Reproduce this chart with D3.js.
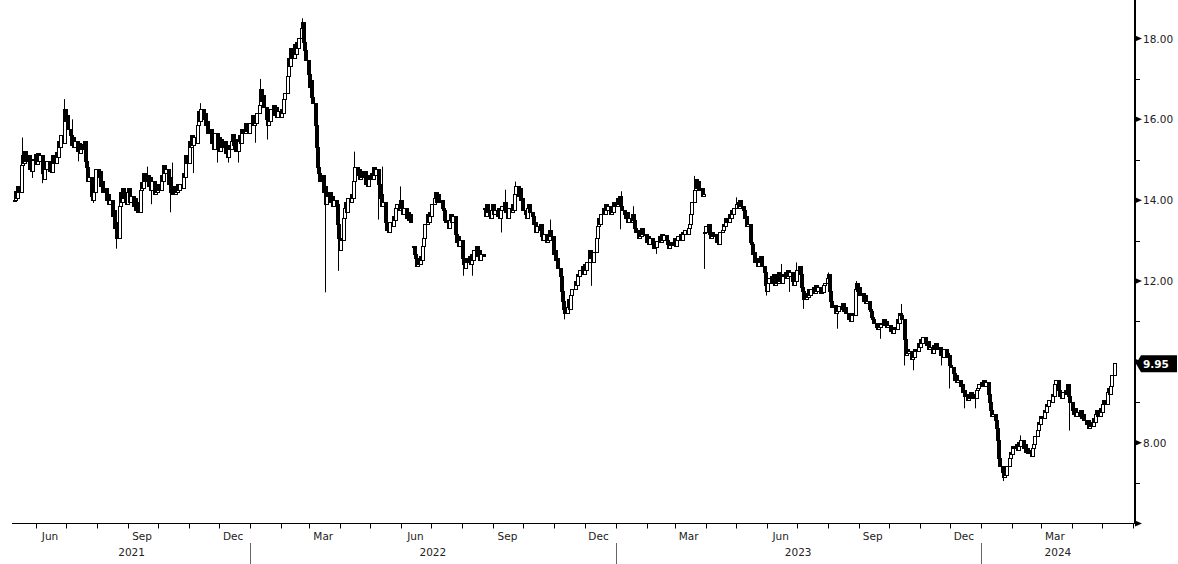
<!DOCTYPE html>
<html><head><meta charset="utf-8">
<script src="https://cdn.jsdelivr.net/npm/d3@7"></script>
<style>
body{margin:0;background:#fff;}
svg{display:block;}
text{font-family:"DejaVu Sans",Verdana,sans-serif;}
</style>
</head><body>
<svg id="chart" width="1178" height="564"></svg>
<script>
// ---------------- DATA ----------------
// daily closes, consecutive weekdays from each segment start
const seg1Start = "2021-05-10";
const seg1Closes = [
14.00,14.22,14.05,14.35,14.20, 14.85,15.10,14.90,15.20,14.95, 15.10,14.75,15.00,14.72,14.98,
15.12,14.88,15.15,14.95,15.10, 14.65,14.50,14.90,14.75,14.95, 14.70,14.95,14.68,15.10,14.90,
15.18,15.05,15.45,15.30,15.60, 15.40,16.25,15.95,16.10,15.75, 15.60,15.35,15.55,15.30,15.45,
15.20,15.40,15.15,15.38,15.25, 15.45,14.95,14.80,14.45,14.55, 14.10,14.00,14.35,14.20,14.75,
14.55,14.70,14.35,14.45,14.20, 14.30,14.00,14.15,13.90,14.00, 13.60,13.75,13.30,13.45,13.05,
13.85,14.20,13.95,14.30,14.05, 13.90,14.20,14.30,13.95,14.10, 13.85,14.05,13.75,13.95,13.70,
14.25,14.43,14.30,14.65,14.45, 14.60,14.35,14.55,14.25,14.45, 14.15,14.35,14.20,14.40,14.25,
14.60,14.45,14.85,14.65,14.75, 14.40,14.55,14.20,14.35,14.15, 14.35,14.20,14.40,14.25,14.38,
14.30,14.65,14.55,15.10,14.90, 15.45,15.30,15.60,15.35,15.55, 15.40,15.85,16.20,15.95,16.25,
16.00,16.15,15.85,15.95,15.65, 15.75,15.40,15.60,15.25,15.65, 15.35,15.55,15.20,15.50,15.30,
15.45,15.15,15.35,15.05,15.25, 15.45,15.62,15.35,15.50,15.20, 15.45,15.60,15.40,15.75,15.65,
15.90,15.70,15.85,15.65,15.90, 16.10,15.85,16.05,15.90,16.15, 16.35,16.75,16.45,16.60,16.30,
16.00,15.85,16.10,15.95,16.25, 16.35,16.10,16.30,16.05,16.20, 16.05,16.25,16.15,16.50,16.65,
17.05,17.50,17.30,17.75,17.50, 17.85,17.60,17.90,17.75,18.00, 18.25,18.40,17.90,17.70,17.45,
17.10,16.80,16.95,16.55,16.40, 15.85,15.30,14.80,14.65,14.45, 14.60,14.20,14.35,13.90,14.10,
14.20,13.95,14.10,13.85,14.00, 13.90,13.40,13.05,12.75,13.00, 13.55,13.80,13.95,13.70,14.05,
13.95,14.15,14.05,14.45,14.80, 14.60,14.75,14.50,14.70,14.55, 14.70,14.40,14.60,14.35,14.50,
14.65,14.50,14.80,14.60,14.75, 14.40,14.05,14.15,13.85,13.95, 13.45,13.25,13.40,13.20,13.45,
13.35,13.60,13.50,13.80,13.90, 13.75,14.00,13.80,13.65,13.80, 13.55,13.70,13.50,13.65,13.45
];
const seg2Start = "2022-06-13";
const seg2Closes = [
12.86,12.65,12.55,12.35,12.42, 12.60,12.50,12.85,13.05,13.40, 13.65,13.45,13.70,13.60,13.90,
14.05,14.20,13.95,14.15,13.95, 14.00,13.80,13.75,13.50,13.45, 13.30,13.50,13.65,13.45,13.60,
13.15,12.95,13.10,12.85,13.00, 12.55,12.40,12.30,12.55,12.45, 12.60,12.40,12.65,12.50,12.75,
12.85,12.60,12.75,12.50,12.65, 12.60
];
const seg3Start = "2022-08-23";
const seg3Closes = [
13.80,13.60,13.90,13.70,
13.55,13.75,13.90,13.65,13.75, 13.60,13.80,13.55,13.75,13.85, 13.95,13.70,13.80,13.55,13.80,
13.70,13.90,13.75,14.15,14.35, 14.10,14.30,14.00,14.05,13.75, 13.65,13.55,13.80,13.90,13.70,
13.60,13.40,13.45,13.20,13.35, 13.25,13.40,13.10,13.00,13.15, 12.95,13.15,13.00,13.25,13.10,
12.65,12.75,12.50,12.55,12.30, 12.10,11.75,11.50,11.30,11.20, 11.35,11.55,11.30,11.65,11.80,
12.00,11.90,12.15,12.10,12.25, 12.35,12.15,12.40,12.25,12.45, 12.75,12.55,12.65,12.45,12.70,
13.05,13.35,13.55,13.40,13.65, 13.80,13.65,13.90,13.75,13.85, 13.65,13.80,13.70,13.95,13.85,
14.05,13.90,14.10,13.85,13.75, 13.65,13.55,13.70,13.45,13.55, 13.45,13.65,13.50,13.30,13.20,
13.05,13.25,13.10,13.30,13.15, 13.15,12.95,13.10,12.90,13.05, 12.90,12.80,12.95,12.82,12.98,
13.10,12.95,13.15,13.00,13.12, 13.00,12.90,12.80,12.95,12.88, 12.90,13.05,12.85,13.00,13.10,
13.15,13.00,13.20,13.15,13.25, 13.15,13.30,13.40,13.65,13.95, 14.25,14.50,14.30,14.45,14.25,
14.30,14.10,14.15
];
const seg4Start = "2023-03-30";
const seg4Closes = [
13.20,13.35,
13.40,13.15,13.05,13.20,13.10, 13.15,12.95,13.00,12.90,13.20, 13.25,13.40,13.35,13.55,13.45,
13.65,13.55,13.75,13.65,13.80, 13.90,13.95,13.80,14.00,13.85, 13.75,13.55,13.60,13.35,13.40,
12.95,12.90,12.65,12.70,12.45, 12.35,12.55,12.45,12.60,12.35, 12.20,11.90,11.75,11.95,12.05,
12.10,11.95,12.15,11.90,11.95, 12.20,12.00,12.15,11.95,12.10, 12.20,12.05,12.25,12.10,12.20,
12.00,11.90,12.10,12.00,12.25, 12.35,12.15,11.85,11.75,11.55, 11.70,11.60,11.80,11.65,11.78,
11.85,11.70,11.90,11.75,11.85, 11.70,11.85,11.72,11.90,11.95, 12.05,12.15,11.75,11.50,11.35,
11.40,11.20,11.35,11.25,11.38, 11.30,11.45,11.25,11.35,11.20, 11.05,11.15,11.00,11.20,11.15,
11.80,11.95,11.75,11.85,11.65, 11.70,11.50,11.65,11.45,11.50, 11.30,11.25,11.10,11.05,10.95,
10.85,10.80,10.95,10.85,10.92, 11.05,10.90,11.00,10.85,10.90, 10.75,10.85,10.70,10.85,10.80,
11.05,10.95,11.20,11.15,11.05, 10.55,10.15,10.30,10.20,10.25, 10.05,10.20,10.10,10.30,10.25,
10.45,10.35,10.55,10.45,10.60, 10.50,10.40,10.50,10.30,10.35, 10.20,10.40,10.30,10.45,10.30,
10.35,10.15,10.25,10.10,10.30, 10.20,10.10,10.15,9.90,9.85, 9.70,9.55,9.65,9.50,9.55,
9.40,9.45,9.25,9.30,9.15, 9.05,9.20,9.10,9.25,9.10, 9.20,9.10,9.30,9.35,9.45,
9.50,9.40,9.55,9.40,9.50, 9.20,9.00,8.80,8.65,8.70, 8.55,8.35,8.05,7.60,7.40,
7.25,7.15,7.30,7.20,7.40, 7.60,7.75,7.70,7.90,7.85, 7.95,7.80,8.00,7.90,8.05,
7.85,7.95,7.75,7.85,7.72, 7.80,7.65,7.85,7.95,8.15, 8.30,8.50,8.45,8.65,8.60,
8.80,8.75,8.95,8.90,9.05, 9.00,9.20,9.15,9.45,9.55, 9.30,9.15,9.25,9.10,9.25,
9.30,9.20,9.45,9.15,9.00, 8.80,8.70,8.85,8.65,8.75, 8.65,8.80,8.60,8.70,8.55,
8.45,8.55,8.35,8.50,8.40, 8.60,8.50,8.70,8.80,8.65, 8.85,8.75,8.95,9.05,8.95,
9.25,9.35,9.20,9.40,9.65, 9.95
];
// notable intraday extremes (wicks)
const wickDates = [
"2021-05-18","2021-05-28","2021-06-07","2021-06-29","2021-07-07","2021-07-13","2021-07-28","2021-08-20",
"2021-09-20","2021-09-24","2021-10-13","2021-10-15","2021-11-05","2021-11-12","2021-11-29","2021-12-10","2021-12-20",
"2022-01-06","2022-01-11","2022-01-18","2022-02-22","2022-03-17","2022-03-30","2022-04-15","2022-05-09","2022-05-13",
"2022-05-31","2022-08-02","2022-08-11","2022-09-09","2022-09-13","2022-09-23","2022-10-28","2022-11-11","2022-12-07",
"2023-01-05","2023-01-06","2023-01-18","2023-02-10","2023-03-20","2023-03-30","2023-05-01","2023-05-31","2023-06-15",
"2023-06-23","2023-06-30","2023-07-07","2023-08-01","2023-08-10","2023-08-29","2023-09-22","2023-10-13","2023-10-16",
"2023-10-25","2023-11-22","2023-11-30","2023-12-15","2023-12-26","2024-01-23","2024-02-09","2024-03-29"
];
const wickValues = [
15.55,14.55,14.42,16.50,16.00,14.96,13.93,12.80,
14.83,13.90,13.70,14.93,14.67,16.40,14.93,14.93,14.93,
15.42,17.00,15.50,18.50,11.72,12.25,15.20,13.52,14.83,
14.34,12.13,12.13,13.20,14.26,14.46,13.52,11.05,11.88,
13.28,14.22,13.85,12.67,14.60,12.30,14.07,11.64,12.42,
11.73,12.46,11.31,12.21,10.82,12.00,10.57,11.43,9.91,
9.79,9.91,9.34,8.85,8.85,7.05,8.18,8.30
];

const yMajorTicks = [6, 8, 10, 12, 14, 16, 18];
const yMinorTicks = [7, 9, 11, 13, 15, 17];
const quarterMonthNames = ["Mar", "Jun", "Sep", "Dec"];
const lastPrice = 9.95;
const xDomain = ["2021-05-09", "2024-06-03"];

// ---------------- CHART ----------------
const parse = d3.utcParse("%Y-%m-%d");
const svg = d3.select("#chart");

const x = d3.scaleUtc().domain(xDomain.map(parse)).range([13, 1135]);
const y = d3.scaleLinear().domain([6, 18]).range([523.5, 38.5]);

function tradingDays(startStr, n) {
  const out = [];
  let d = parse(startStr);
  while (out.length < n) {
    const wd = d.getUTCDay();
    if (wd !== 0 && wd !== 6) out.push(new Date(d));
    d = d3.utcDay.offset(d, 1);
  }
  return out;
}

const segments = [[seg1Start, seg1Closes], [seg2Start, seg2Closes], [seg3Start, seg3Closes], [seg4Start, seg4Closes]];
const bars = [];
segments.forEach(([start, closes]) => {
  const dates = tradingDays(start, closes.length);
  closes.forEach((c, i) => {
    bars.push({ date: dates[i], open: i === 0 ? c : closes[i - 1], close: c });
  });
});

const g = svg.append("g");
// wicks
wickDates.forEach((ds, i) => {
  const d = parse(ds);
  const bar = bars.reduce((a, b) => Math.abs(b.date - d) < Math.abs(a.date - d) ? b : a);
  const v = wickValues[i];
  const edge = v > bar.close ? Math.max(bar.open, bar.close) : Math.min(bar.open, bar.close);
  const cx = Math.round(x(bar.date)) + 0.5;
  g.append("line")
    .attr("x1", cx).attr("x2", cx)
    .attr("y1", y(edge)).attr("y2", y(v))
    .attr("stroke", "#000").attr("stroke-width", 1);
});

// candles
g.selectAll("rect.c").data(bars).join("rect")
  .attr("class", "c")
  .attr("x", d => Math.round(x(d.date)) - 1)
  .attr("width", 3)
  .attr("y", d => y(Math.max(d.open, d.close)))
  .attr("height", d => Math.max(1, Math.abs(y(d.open) - y(d.close))))
  .attr("fill", d => d.close >= d.open ? "#fff" : "#000")
  .attr("stroke", "#000").attr("stroke-width", 1)
  .attr("shape-rendering", "crispEdges");

// bottom axis
const axisY = y(6);
svg.append("line").attr("x1", 12).attr("x2", 1135).attr("y1", axisY).attr("y2", axisY)
  .attr("stroke", "#000").attr("stroke-width", 1).attr("shape-rendering", "crispEdges");
const [d0, d1] = x.domain();
d3.utcMonth.range(d3.utcMonth.ceil(d0), d1).forEach(m => {
  const mx = Math.round(x(m)) + 0.5;
  svg.append("line").attr("x1", mx).attr("x2", mx)
    .attr("y1", axisY).attr("y2", axisY + 5).attr("stroke", "#000").attr("stroke-width", 1);
});
d3.utcMonth.range(d3.utcMonth.floor(d0), d1).forEach(m => {
  const name = d3.utcFormat("%b")(m);
  const mid = d3.utcDay.offset(m, 14);
  if (quarterMonthNames.includes(name) && mid >= d0 && mid <= d1) {
    svg.append("text").attr("x", x(mid)).attr("y", 540).attr("text-anchor", "middle")
      .attr("font-size", 10.5).attr("fill", "#222").text(name);
  }
});
d3.utcYear.range(d3.utcYear.floor(d0), d1).forEach(yr => {
  const a = yr < d0 ? d0 : yr;
  const nextYr = d3.utcYear.offset(yr, 1);
  const b = nextYr > d1 ? d1 : nextYr;
  svg.append("text").attr("x", (x(a) + x(b)) / 2).attr("y", 556).attr("text-anchor", "middle")
    .attr("font-size", 10.5).attr("fill", "#222").text(d3.utcFormat("%Y")(yr));
  if (yr > d0) {
    const sx = Math.round(x(yr)) + 0.5;
    svg.append("line").attr("x1", sx).attr("x2", sx)
      .attr("y1", 543).attr("y2", 564).attr("stroke", "#666").attr("stroke-width", 1);
  }
});

// right axis
svg.append("line").attr("x1", 1135).attr("x2", 1135).attr("y1", 0).attr("y2", axisY + 0.5)
  .attr("stroke", "#000").attr("stroke-width", 2);
yMinorTicks.forEach(v => {
  const yy = Math.round(y(v)) + 0.5;
  svg.append("line").attr("x1", 1135).attr("x2", 1140).attr("y1", yy).attr("y2", yy)
    .attr("stroke", "#000").attr("stroke-width", 1);
});
const yl = y(lastPrice);
yMajorTicks.forEach(v => {
  const yy = y(v);
  svg.append("path").attr("d", `M1135,${yy - 3}L1142,${yy}L1135,${yy + 3}Z`).attr("fill", "#000");
  // the bottom tick carries no label; labels hidden behind the last-price tag are skipped
  if (v > 6 && Math.abs(yy - yl) > 12) {
    svg.append("text").attr("x", 1143).attr("y", yy + 4).attr("font-size", 10.5).attr("fill", "#222")
      .text(d3.format(".2f")(v));
  }
});

// last price tag
svg.append("path")
  .attr("d", `M1136,${yl}L1141,${yl - 8.5}L1177,${yl - 8.5}L1177,${yl + 8.5}L1141,${yl + 8.5}Z`)
  .attr("fill", "#000");
svg.append("text").attr("x", 1143).attr("y", yl + 4).attr("font-size", 10.5).attr("font-weight", "bold")
  .attr("fill", "#fff").text(d3.format(".2f")(lastPrice));
</script>
</body></html>
